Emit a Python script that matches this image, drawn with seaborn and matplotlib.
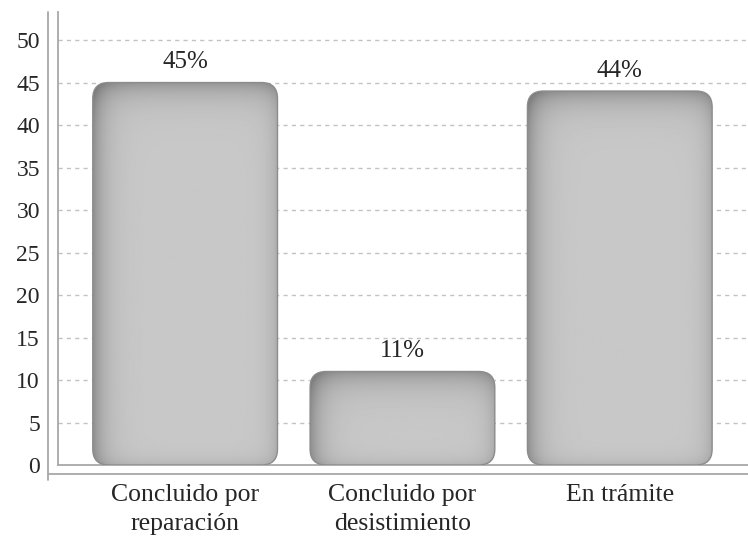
import numpy as np
import pandas as pd
import matplotlib
matplotlib.use("Agg")
import matplotlib.pyplot as plt
import seaborn as sns
from matplotlib.patches import FancyBboxPatch
from matplotlib.lines import Line2D

categories = ["Concluido por\nreparación", "Concluido por\ndesistimiento", "En trámite"]
values = [45, 11, 44]
yticks = [0, 5, 10, 15, 20, 25, 30, 35, 40, 45, 50]

sns.set_theme(style="white")
plt.rcParams["font.family"] = ["Liberation Serif", "DejaVu Serif"]
text_color = "#262626"

df = pd.DataFrame({"cat": categories, "val": values})

fig = plt.figure(figsize=(7.48, 5.38), dpi=100)
ax = fig.add_axes([58 / 748, (538 - 465) / 538, 690 / 748, 453 / 538])

sns.barplot(data=df, x="cat", y="val", color="#c4c4c4", width=0.85, ax=ax)

ax.set_xlim(-0.585, 2.59)
ax.set_ylim(0, 53.3)

# px per data unit (for rounding + shading)
px_x = 690 / (2.59 + 0.585)
px_y = 453 / 53.3

# dashed grid
for t in yticks[1:]:
    ax.axhline(t, color="#c2c2c2", lw=1.0, ls=(0, (3, 3)), zorder=0)

# replace default rectangles with rounded, shaded bars
bars = list(ax.patches)
for p in bars:
    x0, w, h = p.get_x(), p.get_width(), p.get_height()
    p.set_visible(False)
    r = 16
    box = FancyBboxPatch((x0, 0), w, h,
                         boxstyle=f"round,pad=0,rounding_size={r / px_x:.4f}",
                         mutation_aspect=(r / px_y) / (r / px_x),
                         facecolor="#c6c6c6", edgecolor="none", zorder=2)
    ax.add_patch(box)
    wp, hp = int(w * px_x), int(h * px_y)
    xx = np.arange(wp)[None, :].astype(float)
    yy = np.arange(hp)[:, None].astype(float)
    shade = (0.785
             - 0.22 * np.exp(-xx / 12)
             - 0.12 * np.exp(-(wp - xx) / 9)
             - 0.20 * np.exp(-yy / 14)
             - 0.08 * np.exp(-(hp - yy) / 7))
    im = ax.imshow(shade, cmap="gray", vmin=0, vmax=1, aspect="auto",
                   extent=(x0, x0 + w, 0, h), origin="upper", zorder=3,
                   interpolation="bilinear")
    im.set_clip_path(box)
    edge = FancyBboxPatch((x0, 0), w, h,
                          boxstyle=f"round,pad=0,rounding_size={r / px_x:.4f}",
                          mutation_aspect=(r / px_y) / (r / px_x),
                          facecolor="none", edgecolor="#8c8c8c", lw=1.0, zorder=4)
    ax.add_patch(edge)
    ax.text(x0 + w / 2, h + 2.4, f"{int(round(h))}%", ha="center", va="center",
            fontsize=18, color=text_color)

ax.set_xlim(-0.585, 2.59)
ax.set_ylim(0, 53.3)

ax.set_xlabel("")
ax.set_ylabel("")
ax.set_yticks(yticks)
ax.set_yticklabels([str(t) for t in yticks])
ax.tick_params(axis="y", length=0, pad=13, labelsize=17, labelcolor=text_color)
ax.tick_params(axis="x", length=0, pad=14, labelsize=18.5, labelcolor=text_color)
for lab in ax.get_xticklabels():
    lab.set_linespacing(1.4)

for s in ["top", "right"]:
    ax.spines[s].set_visible(False)
for s in ["left", "bottom"]:
    ax.spines[s].set_color("#a8a8a8")
    ax.spines[s].set_linewidth(1.3)

# outer frame lines
ax.add_line(Line2D([-10 / 690, -10 / 690], [-15 / 453, 1.0], transform=ax.transAxes,
                   color="#a8a8a8", lw=1.3, clip_on=False))
ax.add_line(Line2D([-10 / 690, 1.0], [-9 / 453, -9 / 453], transform=ax.transAxes,
                   color="#a8a8a8", lw=1.3, clip_on=False))

fig.savefig("out.png", dpi=100)
